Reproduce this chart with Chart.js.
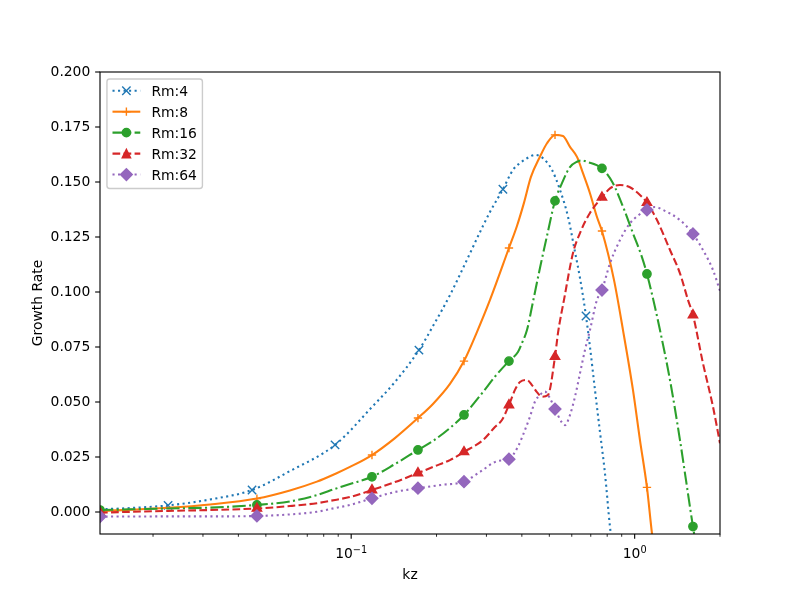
<!DOCTYPE html>
<html><head><meta charset="utf-8">
<script src="https://cdn.jsdelivr.net/npm/chart.js@4.4.1/dist/chart.umd.min.js"></script>
<style>html,body{margin:0;padding:0;background:#fff;}canvas{display:block;}</style>
</head><body>
<canvas id="c" width="800" height="600"></canvas>
<script>
// ---- data ----
const kz4 = [0.0130,0.0166,0.0226,0.0318,0.0447,0.0608,0.0877,0.1184,0.1427,0.1734,0.1943,0.2231,0.2500,0.2916,0.3088,0.3430,0.3721,0.3939,0.4170,0.4448,0.4749,0.5109,0.5453,0.5819,0.6159,0.6413,0.6734,0.6955,0.7244,0.7544,0.7856,0.8183,0.8385];
const gr4 = [0.0012,0.0018,0.0030,0.0057,0.0100,0.0186,0.0305,0.0477,0.0591,0.0736,0.0845,0.0986,0.1118,0.1300,0.1364,0.1467,0.1555,0.1586,0.1608,0.1623,0.1608,0.1555,0.1464,0.1342,0.1182,0.1064,0.0891,0.0751,0.0555,0.0364,0.0176,-0.0067,-0.0173];
const mk4 = [2,4,6,9,15,26];

const kz8 = [0.0130,0.0226,0.0318,0.0465,0.0608,0.0757,0.0877,0.0990,0.1184,0.1427,0.1720,0.1943,0.2231,0.2500,0.2777,0.3088,0.3602,0.3844,0.4069,0.4306,0.4634,0.4906,0.5236,0.5587,0.5914,0.6260,0.6571,0.6955,0.7362,0.7668,0.8453,0.9095,0.9862,1.0440,1.1050,1.1510,1.1793];
const gr8 = [0.0004,0.0019,0.0034,0.0061,0.0098,0.0138,0.0173,0.0205,0.0259,0.0336,0.0427,0.0491,0.0582,0.0686,0.0818,0.0964,0.1200,0.1300,0.1405,0.1523,0.1615,0.1676,0.1714,0.1709,0.1660,0.1614,0.1540,0.1449,0.1341,0.1277,0.1055,0.0827,0.0555,0.0327,0.0112,-0.0097,-0.0195];
const mk8 = [0,3,8,10,13,16,22,29,34];

const kz16 = [0.0130,0.0226,0.0318,0.0465,0.0608,0.0757,0.0877,0.0990,0.1184,0.1427,0.1720,0.1943,0.2231,0.2500,0.2916,0.3214,0.3602,0.3875,0.4004,0.4170,0.4377,0.4634,0.4906,0.5236,0.5542,0.5914,0.6260,0.6518,0.6788,0.7668,0.8385,0.9095,0.9862,1.0602,1.1050,1.1604,1.2282,1.3323,1.4449,1.5293,1.6056,1.6589];
const gr16 = [0.0009,0.0016,0.0020,0.0032,0.0048,0.0077,0.0105,0.0127,0.0160,0.0218,0.0282,0.0323,0.0382,0.0441,0.0545,0.0615,0.0686,0.0727,0.0768,0.0827,0.0955,0.1109,0.1255,0.1414,0.1495,0.1568,0.1592,0.1598,0.1592,0.1562,0.1494,0.1388,0.1267,0.1160,0.1082,0.0971,0.0827,0.0600,0.0327,0.0115,-0.0066,-0.0173];
const mk16 = [0,3,8,10,13,16,23,29,34,40];

const kz32 = [0.0130,0.0226,0.0318,0.0465,0.0608,0.0757,0.0877,0.0990,0.1184,0.1427,0.1720,0.1943,0.2231,0.2500,0.2916,0.3214,0.3403,0.3602,0.3782,0.3939,0.4170,0.4341,0.4521,0.4710,0.4946,0.5236,0.5365,0.5632,0.6060,0.6413,0.6955,0.7668,0.8183,0.8876,0.9625,1.0440,1.1050,1.1988,1.3323,1.4449,1.5417,1.6056,1.7416,1.8889,2.0];
const gr32 = [-0.0003,0.0005,0.0009,0.0016,0.0027,0.0040,0.0055,0.0068,0.0100,0.0136,0.0177,0.0205,0.0236,0.0273,0.0327,0.0386,0.0418,0.0486,0.0555,0.0591,0.0600,0.0577,0.0545,0.0524,0.0532,0.0706,0.0814,0.0964,0.1177,0.1268,0.1359,0.1430,0.1471,0.1486,0.1476,0.1441,0.1406,0.1327,0.1191,0.1085,0.0964,0.0895,0.0676,0.0479,0.0312];
const mk32 = [0,3,8,10,13,17,25,31,36,41];

const kz64 = [0.0130,0.0226,0.0318,0.0465,0.0608,0.0757,0.0877,0.0990,0.1184,0.1427,0.1720,0.2074,0.2500,0.2846,0.3294,0.3602,0.3875,0.4103,0.4272,0.4448,0.4634,0.4826,0.5027,0.5236,0.5542,0.5679,0.5914,0.6159,0.6413,0.6679,0.6955,0.7362,0.7668,0.8183,0.8876,0.9625,1.1050,1.1793,1.2586,1.4449,1.6056,1.7416,1.8889,2.0];
const gr64 = [-0.0021,-0.0020,-0.0020,-0.0018,-0.0011,0.0001,0.0018,0.0032,0.0062,0.0091,0.0108,0.0123,0.0138,0.0182,0.0232,0.0240,0.0297,0.0373,0.0433,0.0501,0.0532,0.0547,0.0517,0.0468,0.0406,0.0395,0.0441,0.0524,0.0630,0.0736,0.0827,0.0964,0.1009,0.1130,0.1236,0.1312,0.1373,0.1386,0.1373,0.1327,0.1264,0.1191,0.1100,0.1005];
const mk64 = [0,3,8,10,12,15,23,32,36,40];

const seriesNames = ['Rm:4','Rm:8','Rm:16','Rm:32','Rm:64'];
const yTicks = [0,0.025,0.05,0.075,0.1,0.125,0.15,0.175,0.2];
const xMajor = [0.1,1];
const xMajorLabels = [['10','\u22121'],['10','0']];
const xMinor = [0.02,0.03,0.04,0.05,0.06,0.07,0.08,0.09,0.2,0.3,0.4,0.5,0.6,0.7,0.8,0.9,2];
const xLabel = 'kz', yLabel = 'Growth Rate';

// ---- styling ----
const PT = 100/72;
const FONT = '"DejaVu Sans", sans-serif';
const FS = 10*PT;
const LW = 1.5*PT;
const styles = [
  {color:'#1f77b4', dash:[1*LW,1.65*LW], marker:'x', ps:'crossRot', r:5.9},
  {color:'#ff7f0e', dash:[], marker:'+', ps:'cross', r:4.17},
  {color:'#2ca02c', dash:[6.4*LW,1.6*LW,1*LW,1.6*LW], marker:'o', ps:'circle', r:4.17},
  {color:'#d62728', dash:[3.7*LW,1.6*LW], marker:'^', ps:'triangle', r:5.4},
  {color:'#9467bd', dash:[1*LW,1.65*LW], marker:'D', ps:'rectRot', r:5.89}
];
const allKz = [kz4,kz8,kz16,kz32,kz64];
const allGr = [gr4,gr8,gr16,gr32,gr64];
const allMk = [mk4,mk8,mk16,mk32,mk64];

const datasets = seriesNames.map((name,i)=>{
  const st = styles[i];
  const data = allKz[i].map((k,j)=>({x:k, y:allGr[i][j]}));
  const radii = allKz[i].map((k,j)=> allMk[i].includes(j) ? st.r : 0);
  return {
    label:name, data,
    borderColor:st.color, backgroundColor:st.color,
    borderWidth:LW, borderDash:st.dash, borderCapStyle:'butt', borderJoinStyle:'round',
    pointStyle:st.ps, pointRadius:radii, pointHoverRadius:radii,
    pointBorderWidth:PT, pointBackgroundColor:st.color, pointBorderColor:st.color,
    fill:false, cubicInterpolationMode:'monotone', order:5-i
  };
});

function drawMplMarker(ctx, m, color, x, y){
  const h = 3*PT;
  ctx.save();
  ctx.setLineDash([]);
  ctx.strokeStyle = color; ctx.fillStyle = color; ctx.lineWidth = PT;
  ctx.beginPath();
  if (m==='x'){ ctx.moveTo(x-h,y-h); ctx.lineTo(x+h,y+h); ctx.moveTo(x-h,y+h); ctx.lineTo(x+h,y-h); ctx.stroke(); }
  else if (m==='+'){ ctx.moveTo(x-h,y); ctx.lineTo(x+h,y); ctx.moveTo(x,y-h); ctx.lineTo(x,y+h); ctx.stroke(); }
  else if (m==='o'){ ctx.arc(x,y,h,0,Math.PI*2); ctx.fill(); ctx.stroke(); }
  else if (m==='^'){ ctx.moveTo(x,y-h); ctx.lineTo(x-h,y+h); ctx.lineTo(x+h,y+h); ctx.closePath(); ctx.fill(); ctx.stroke(); }
  else if (m==='D'){ const d=h*Math.SQRT2; ctx.moveTo(x,y-d); ctx.lineTo(x+d,y); ctx.lineTo(x,y+d); ctx.lineTo(x-d,y); ctx.closePath(); ctx.fill(); ctx.stroke(); }
  ctx.restore();
}

const mplPlugin = {
  id:'mpl',
  afterDraw(chart){
    const ctx = chart.ctx, a = chart.chartArea, xs = chart.scales.x, ys = chart.scales.y;
    ctx.save();
    ctx.setLineDash([]);
    ctx.strokeStyle = '#000';
    ctx.lineWidth = 0.8*PT;
    ctx.strokeRect(a.left, a.top, a.right-a.left, a.bottom-a.top);
    yTicks.forEach(v=>{ const y = ys.getPixelForValue(v); ctx.beginPath(); ctx.moveTo(a.left,y); ctx.lineTo(a.left-3.5*PT,y); ctx.stroke(); });
    xMajor.forEach(v=>{ const x = xs.getPixelForValue(v); ctx.beginPath(); ctx.moveTo(x,a.bottom); ctx.lineTo(x,a.bottom+3.5*PT); ctx.stroke(); });
    ctx.lineWidth = 0.6*PT;
    xMinor.forEach(v=>{ const x = xs.getPixelForValue(v); ctx.beginPath(); ctx.moveTo(x,a.bottom); ctx.lineTo(x,a.bottom+2*PT); ctx.stroke(); });
    ctx.fillStyle = '#000';
    ctx.textBaseline = 'alphabetic';
    ctx.textAlign = 'left';
    const baseFont = FS+'px '+FONT, supFont = (FS*0.7)+'px '+FONT;
    xMajor.forEach((v,i)=>{
      const [b,e] = xMajorLabels[i];
      ctx.font = baseFont; const wb = ctx.measureText(b).width;
      ctx.font = supFont; const we = ctx.measureText(e).width;
      const x0 = xs.getPixelForValue(v) - (wb+we)/2;
      ctx.font = baseFont; ctx.fillText(b, x0, a.bottom+24);
      ctx.font = supFont; ctx.fillText(e, x0+wb, a.bottom+18.5);
    });
    ctx.font = baseFont;
    ctx.textAlign = 'center';
    ctx.fillText(xLabel, (a.left+a.right)/2, a.bottom+45);
    ctx.save();
    ctx.translate(41.5, (a.top+a.bottom)/2);
    ctx.rotate(-Math.PI/2);
    ctx.fillText(yLabel, 0, 0);
    ctx.restore();
    // legend
    const lx = a.left+0.5*FS, ly = a.top+0.5*FS;
    ctx.font = baseFont;
    let tw = 0; seriesNames.forEach(n=>{ tw = Math.max(tw, ctx.measureText(n).width); });
    const lw = 0.4*FS + 2*FS + 0.8*FS + tw + 0.4*FS;
    const lh = 109.5, rr = 0.2*FS;
    ctx.beginPath();
    ctx.moveTo(lx+rr,ly); ctx.lineTo(lx+lw-rr,ly); ctx.arcTo(lx+lw,ly,lx+lw,ly+rr,rr);
    ctx.lineTo(lx+lw,ly+lh-rr); ctx.arcTo(lx+lw,ly+lh,lx+lw-rr,ly+lh,rr);
    ctx.lineTo(lx+rr,ly+lh); ctx.arcTo(lx,ly+lh,lx,ly+lh-rr,rr);
    ctx.lineTo(lx,ly+rr); ctx.arcTo(lx,ly,lx+rr,ly,rr); ctx.closePath();
    ctx.fillStyle = 'rgba(255,255,255,0.8)'; ctx.fill();
    ctx.strokeStyle = '#cccccc'; ctx.lineWidth = PT; ctx.stroke();
    const hx0 = lx+0.4*FS, hx1 = hx0+2*FS, tx = hx1+0.8*FS;
    seriesNames.forEach((n,i)=>{
      const st = styles[i];
      const ry = ly + 11.8 + i*20.95;
      ctx.save();
      ctx.strokeStyle = st.color; ctx.lineWidth = LW; ctx.lineCap = 'butt';
      ctx.setLineDash(st.dash);
      ctx.beginPath(); ctx.moveTo(hx0, ry); ctx.lineTo(hx1, ry); ctx.stroke();
      ctx.restore();
      drawMplMarker(ctx, st.marker, st.color, (hx0+hx1)/2, ry);
      ctx.fillStyle = '#000'; ctx.font = baseFont; ctx.textAlign = 'left'; ctx.textBaseline = 'alphabetic';
      ctx.fillText(n, tx, ry + 0.365*FS);
    });
    ctx.restore();
  }
};

new Chart(document.getElementById('c'), {
  type:'line',
  data:{datasets},
  options:{
    responsive:false, animation:false, devicePixelRatio:1,
    layout:{padding:{left:0,right:80,top:72,bottom:0}},
    plugins:{legend:{display:false}, title:{display:false}, tooltip:{enabled:false}},
    events:[],
    scales:{
      x:{type:'logarithmic', min:0.013, max:2.0,
         ticks:{display:false}, grid:{display:false, drawTicks:false}, border:{display:false},
         afterFit:s=>{ s.height = 66; }},
      y:{type:'linear', min:-0.01, max:0.2,
         afterBuildTicks:s=>{ s.ticks = yTicks.map(v=>({value:v})); },
         ticks:{callback:v=>Number(v).toFixed(3), color:'#000', padding:7*PT, font:{family:FONT, size:FS}},
         grid:{display:false, drawTicks:false}, border:{display:false},
         afterFit:s=>{ s.width = 100; }}
    }
  },
  plugins:[mplPlugin]
});
</script>
</body></html>
